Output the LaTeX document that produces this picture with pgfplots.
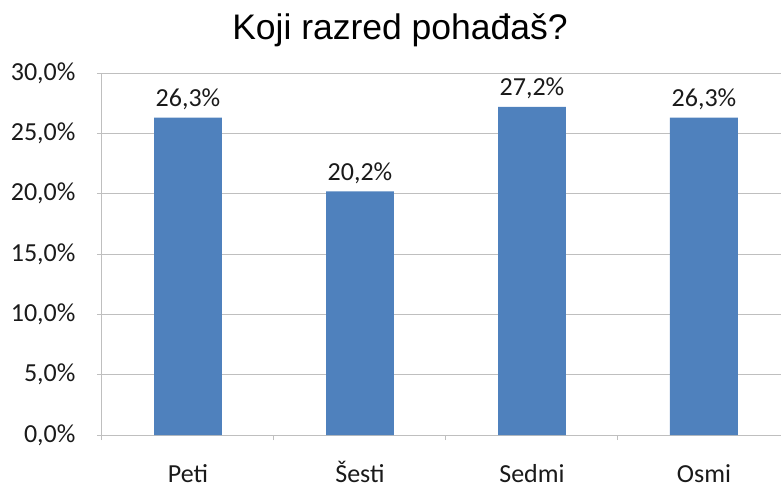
\documentclass[border=0pt]{standalone}
\usepackage{pgfplots}
\pgfplotsset{compat=1.18}
\usepackage{fontspec}
\setmainfont{Carlito}
\newfontfamily\titlefont{Liberation Sans}
\definecolor{barblue}{HTML}{4F81BD}
\definecolor{gridgray}{HTML}{BFBFBF}
\definecolor{txt}{HTML}{1A1A1A}
\begin{document}
\begin{tikzpicture}
\useasboundingbox (-102pt,-53pt) rectangle (679pt,435pt);
\begin{axis}[
  name=ax,
  at={(0,0)}, anchor=south west,
  scale only axis,
  width=679pt, height=362pt,
  xmin=-0.5, xmax=3.448,
  ymin=0, ymax=30,
  axis x line*=bottom, axis y line*=left,
  axis line style={gridgray, line width=1pt},
  ytick={0,5,...,30},
  ymajorgrids,
  grid style={gridgray, line width=1pt},
  /pgf/number format/assume math mode=true,
  yticklabel={\pgfmathprintnumber[fixed,fixed zerofill,precision=1,use comma]{\tick}\%},
  xtick={0,1,2,3},
  xticklabels={Peti, Šesti, Sedmi, Osmi},
  minor xtick={-0.5,0.5,1.5,2.5},
  major x tick style={draw=none},
  tick style={gridgray, line width=1pt},
  tick align=outside,
  major tick length=5pt, minor tick length=5pt,
  ticklabel style={font=\fontsize{26}{30}\selectfont, text=txt},
  yticklabel style={xshift=-18pt},
  xticklabel style={text height=0.7em, text depth=0.2em, yshift=-32pt},
  ybar, bar width=0.395,
  nodes near coords={\pgfmathprintnumber[fixed,fixed zerofill,precision=1,use comma]{\pgfplotspointmeta}\%},
  nodes near coords style={font=\fontsize{26}{30}\selectfont, text=txt, yshift=4pt},
  clip=false,
]
\addplot[fill=barblue, draw=none] coordinates {(0,26.3) (1,20.2) (2,27.2) (3,26.3)};
\end{axis}
\node[font=\titlefont\fontsize{35.5}{40}\selectfont, text=black, anchor=base] at (298pt,395pt) {Koji razred pohađaš?};
\end{tikzpicture}
\end{document}
